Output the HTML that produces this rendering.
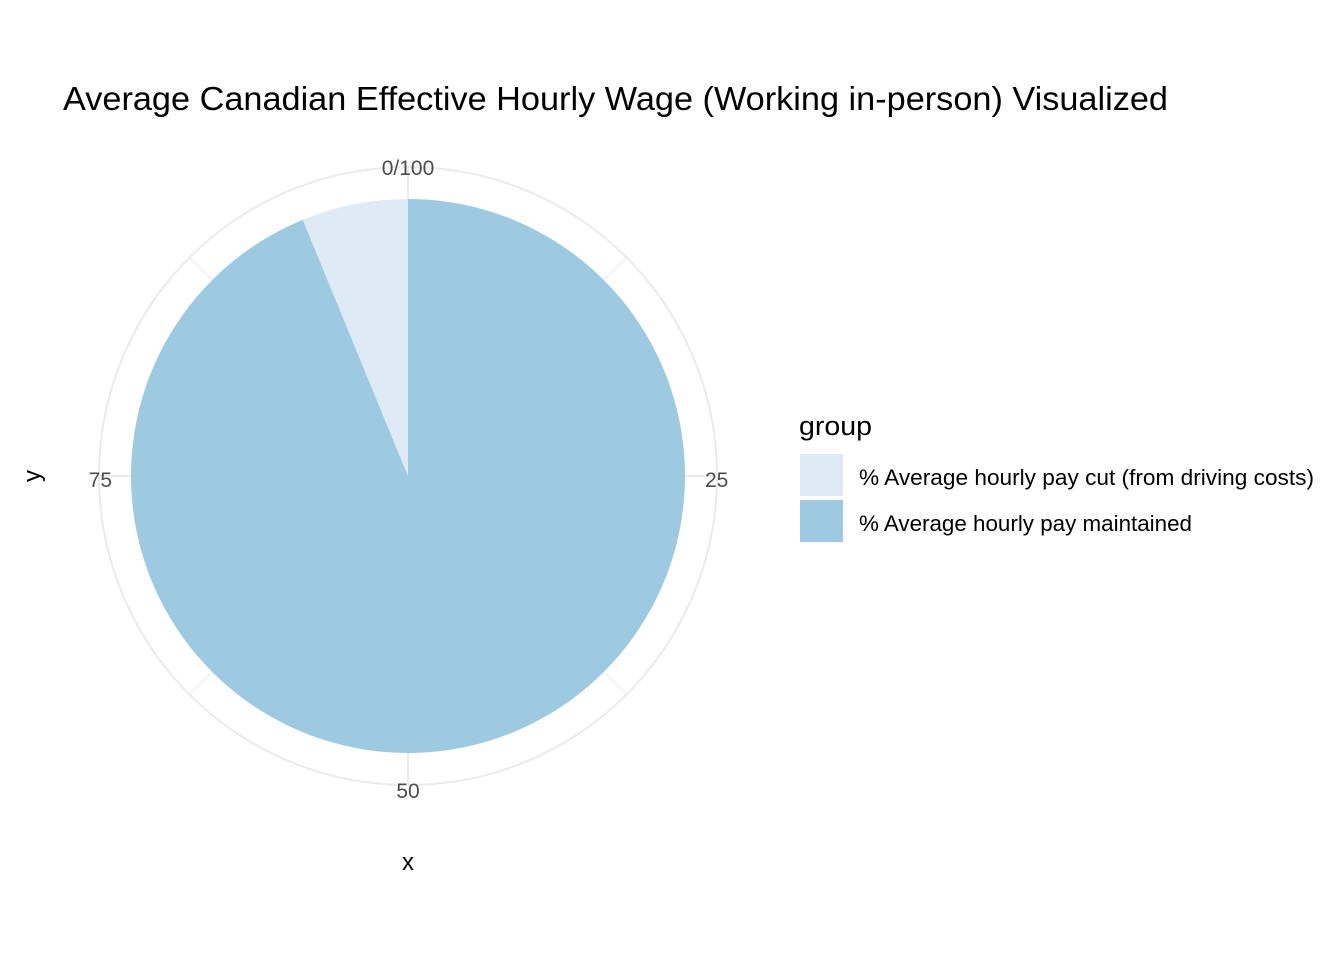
<!DOCTYPE html>
<html><head><meta charset="utf-8"><style>
body{margin:0;background:#fff;}
svg text{font-family:"Liberation Sans",Arial,sans-serif;}
</style></head><body>
<svg id="chart" width="1344" height="960" xmlns="http://www.w3.org/2000/svg">
<rect width="1344" height="960" fill="#fff"/>
<text x="63" y="110" font-size="33" textLength="1105" lengthAdjust="spacingAndGlyphs" fill="#000">Average Canadian Effective Hourly Wage (Working in-person) Visualized</text>
<g id="grid"></g>
<g id="slices"></g>
<g id="ticks"></g>
<text x="408" y="870" font-size="24" text-anchor="middle">x</text>
<text transform="translate(40,476) rotate(-90)" font-size="24" text-anchor="middle">y</text>
<text x="799" y="435" font-size="27" textLength="73" lengthAdjust="spacingAndGlyphs">group</text>
<g id="legend"></g>
</svg>
<script>
const groups = ["% Average hourly pay cut (from driving costs)", "% Average hourly pay maintained"];
const values = [6.2, 93.8];
const colors = ["#DEEBF7", "#9ECAE1"];
const tickVals = [0, 25, 50, 75];
const tickLabels = ["0/100", "25", "50", "75"];
const total = 100;

const NS = "http://www.w3.org/2000/svg";
const cx = 408, cy = 476, rPie = 277, rOuter = 309;
function ang(v){ return v/total*2*Math.PI; }
function pt(v, r){ const a = ang(v); return [cx + r*Math.sin(a), cy - r*Math.cos(a)]; }
function mk(tag, attrs, parent){ const e = document.createElementNS(NS, tag); for (const k in attrs) e.setAttribute(k, attrs[k]); parent.appendChild(e); return e; }

const grid = document.getElementById('grid');
const oc = mk('circle', {cx:cx, cy:cy, r:rOuter, fill:'none', stroke:'#EBEBEB', 'stroke-width':2}, grid);


for (let i = 0; i < 8; i++) {
  const v = i*12.5;
  const p = pt(v, rOuter);
  const ln = mk('line', {x1:cx, y1:cy, x2:p[0], y2:p[1], stroke:'#EBEBEB', 'stroke-width': i%2 ? 1 : 2}, grid);
  
  
}

const slices = document.getElementById('slices');
const order = [1, 0];
let start = 0;
for (const i of order) {
  const v0 = start, v1 = start + values[i];
  const p0 = pt(v0, rPie), p1 = pt(v1, rPie);
  const large = values[i] > total/2 ? 1 : 0;
  const d = `M${cx},${cy} L${p0[0]},${p0[1]} A${rPie},${rPie} 0 ${large} 1 ${p1[0]},${p1[1]} Z`;
  const s = mk('path', {d:d, fill:colors[i]}, slices);
  
  
  start = v1;
}

const ticks = document.getElementById('ticks');
tickVals.forEach((v, i) => {
  const p = pt(v, rOuter);
  let x = p[0], y = p[1] + 8, anchor = 'middle';
  if (v === 0) { y = p[1] + 8; }
  if (v === 25) { anchor = 'start'; x = p[0] - 12; y = p[1] + 11; }
  if (v === 75) { anchor = 'end'; x = p[0] + 13; y = p[1] + 11; }
  if (v === 50) { y = p[1] + 13; }
  const t = mk('text', {x:x, y:y, 'font-size':21, fill:'#4D4D4D', 'text-anchor':anchor}, ticks);
  t.textContent = tickLabels[i];
  
  
});

const legend = document.getElementById('legend');
const legendWidths = [455, 333];
groups.forEach((g, i) => {
  const y = 454 + i*46;
  const r = mk('rect', {x:800, y:y, width:43, height:42, fill:colors[i]}, legend);
  
  
  const t = mk('text', {x:859, y:y+31, 'font-size':22.5, fill:'#000', textLength:legendWidths[i], lengthAdjust:'spacingAndGlyphs'}, legend);
  t.textContent = g;
  
  
});
</script>
</body></html>
